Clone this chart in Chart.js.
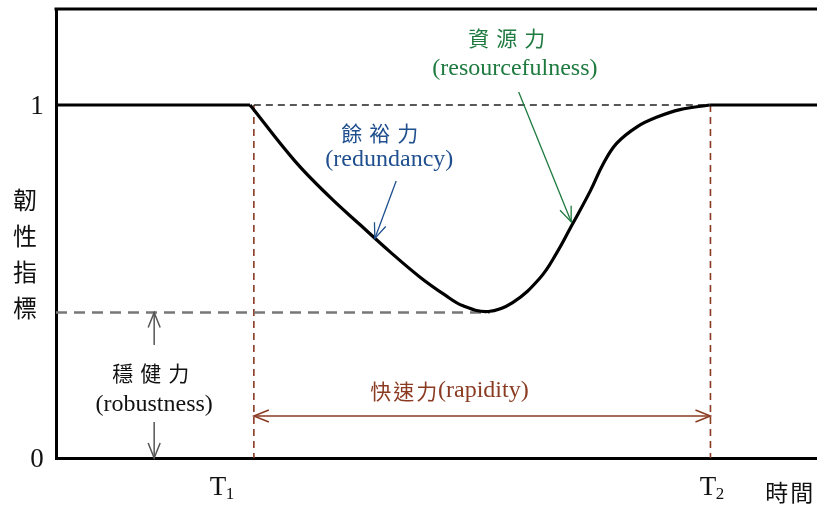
<!DOCTYPE html>
<html>
<head>
<meta charset="utf-8">
<script src="https://cdn.jsdelivr.net/npm/chart.js@4/dist/chart.umd.min.js"></script>
<style>
  html, body { margin: 0; padding: 0; background: #fff; }
  #wrap { width: 817px; height: 505px; }
</style>
</head>
<body>
<div id="wrap"><canvas id="resChart"></canvas></div>
<script>
// performance curve (time in arbitrary units, index 0..1)
const dropX = [2.55, 3.14, 3.60, 4.00, 4.39, 4.78, 5.11, 5.35, 5.68, 6.00, 6.36, 6.58, 6.78, 7.02, 7.19, 7.37, 7.64, 7.90, 8.20, 8.59];
const dropY = [1, 0.841, 0.739, 0.660, 0.584, 0.513, 0.462, 0.431, 0.415, 0.440, 0.510, 0.581, 0.660, 0.756, 0.833, 0.892, 0.939, 0.966, 0.987, 1];
const before = [0, 2.55];
const after = [8.59, 10];

const t1 = 2.6;
const t2 = 8.6;
const robustLevel = 0.412;
const minTime = 5.70;
const yTicks = [0, 1];

const serif = '"Liberation Serif", "Times New Roman", serif';
const cjk = '"Noto Sans CJK TC", "Noto Sans CJK SC", sans-serif';
const brown = '#8a3b22';
const green = '#1f7a40';
const blue = '#1f4f8e';

const toPts = (xs, ys) => xs.map((x, i) => ({ x: x, y: ys[i] }));

function arrowHead(ctx, x1, y1, x2, y2, len, half) {
  const a = Math.atan2(y2 - y1, x2 - x1);
  const ux = Math.cos(a), uy = Math.sin(a);
  ctx.beginPath();
  ctx.moveTo(x2 - ux * len - uy * half, y2 - uy * len + ux * half);
  ctx.lineTo(x2, y2);
  ctx.lineTo(x2 - ux * len + uy * half, y2 - uy * len - ux * half);
  ctx.stroke();
}

function arrow(ctx, x1, y1, x2, y2, color, width, both) {
  ctx.save();
  ctx.strokeStyle = color;
  ctx.lineWidth = width;
  ctx.beginPath();
  ctx.moveTo(x1, y1);
  ctx.lineTo(x2, y2);
  ctx.stroke();
  arrowHead(ctx, x1, y1, x2, y2, 15, 6);
  if (both) arrowHead(ctx, x2, y2, x1, y1, 15, 6);
  ctx.restore();
}

function text(ctx, str, x, y, font, color, spacing, align) {
  ctx.save();
  ctx.font = font;
  ctx.fillStyle = color;
  ctx.textAlign = align || 'center';
  ctx.textBaseline = 'middle';
  ctx.letterSpacing = spacing || '0px';
  ctx.fillText(str, x, y);
  ctx.restore();
}

const annotations = {
  id: 'annotations',
  afterDraw(chart) {
    const ctx = chart.ctx;
    const xs = chart.scales.x, ys = chart.scales.y;
    const px = v => xs.getPixelForValue(v);
    const py = v => ys.getPixelForValue(v);
    const area = chart.chartArea;

    // top frame line
    ctx.save();
    ctx.strokeStyle = '#000';
    ctx.lineWidth = 3;
    ctx.beginPath();
    ctx.moveTo(area.left - 1.5, area.top);
    ctx.lineTo(area.right, area.top);
    ctx.stroke();
    ctx.restore();

    // resourcefulness
    text(ctx, '資源力', px(5.97), py(1.19), '21px ' + cjk, green, '7px');
    text(ctx, '(resourcefulness)', px(6.03), py(1.102), '24px ' + serif, green);
    arrow(ctx, px(6.08), py(1.037), px(6.77), py(0.669), green, 1.3);

    // redundancy
    text(ctx, '餘裕力', px(4.30), py(0.921), '21px ' + cjk, blue, '7px');
    text(ctx, '(redundancy)', px(4.38), py(0.844), '24px ' + serif, blue);
    arrow(ctx, px(4.47), py(0.785), px(4.19), py(0.622), blue, 1.3);

    // rapidity
    text(ctx, '快速力', px(4.13), py(0.19), '21px ' + cjk, brown, '2px', 'left');
    text(ctx, '(rapidity)', px(5.02), py(0.19), '24px ' + serif, brown, '0px', 'left');
    arrow(ctx, px(t1), py(0.119), px(t2), py(0.119), brown, 1.5, true);

    // robustness
    arrow(ctx, px(1.29), py(0.32), px(1.29), py(robustLevel), '#555', 1.5);
    arrow(ctx, px(1.29), py(0.102), px(1.29), py(0), '#555', 1.5);
    text(ctx, '穩健力', px(1.29), py(0.241), '21px ' + cjk, '#111', '7px');
    text(ctx, '(robustness)', px(1.29), py(0.150), '24px ' + serif, '#111');

    // y tick labels
    yTicks.forEach(v => text(ctx, String(v), 37, py(v) + 2, '27px ' + serif, '#111'));

    // y title, stacked characters
    ['韌', '性', '指', '標'].forEach((c, i) => text(ctx, c, 25, 200 + i * 36, '24px ' + cjk, '#111'));

    // x labels
    const base = py(0) + 30;
    [[2.18, '1'], [8.62, '2']].forEach(([v, sub]) => {
      text(ctx, 'T', px(v) - 4, base, '27px ' + serif, '#111');
      text(ctx, sub, px(v) + 8, base + 7, '17px ' + serif, '#111');
    });
    text(ctx, '時間', px(9.65), base + 4, '23px ' + cjk, '#111', '2px');
  }
};

const solid = { borderColor: '#000', borderWidth: 3.2, pointRadius: 0, order: 0 };
const dashed = (color, width, dash) => ({ borderColor: color, borderWidth: width, borderDash: dash, pointRadius: 0, order: 1 });

new Chart(document.getElementById('resChart'), {
  type: 'line',
  data: {
    datasets: [
      Object.assign({ data: toPts(before, [1, 1]) }, solid),
      Object.assign({ data: toPts(dropX, dropY), tension: 0.4 }, solid),
      Object.assign({ data: toPts(after, [1, 1]) }, solid),
      Object.assign({ data: [{ x: 0, y: robustLevel }, { x: minTime, y: robustLevel }] }, dashed('#777', 2.5, [11, 7])),
      Object.assign({ data: [{ x: t1, y: 1 }, { x: t2, y: 1 }] }, dashed('#222', 1.5, [7, 5])),
      Object.assign({ data: [{ x: t1, y: 1 }, { x: t1, y: 0 }] }, dashed(brown, 1.6, [7, 5])),
      Object.assign({ data: [{ x: t2, y: 1 }, { x: t2, y: 0 }] }, dashed(brown, 1.6, [7, 5]))
    ]
  },
  options: {
    responsive: true,
    maintainAspectRatio: false,
    animation: false,
    layout: { padding: { left: 56, top: 9, right: 0, bottom: 47 } },
    plugins: { legend: { display: false }, tooltip: { enabled: false } },
    scales: {
      x: {
        type: 'linear',
        min: 0,
        max: 10,
        grid: { display: false, drawTicks: false },
        ticks: { display: false },
        border: { display: true, color: '#000', width: 3 }
      },
      y: {
        min: 0,
        max: 1.272,
        grid: { display: false, drawTicks: false },
        ticks: { display: false },
        border: { display: true, color: '#000', width: 3 }
      }
    }
  },
  plugins: [annotations]
});
</script>
</body>
</html>
